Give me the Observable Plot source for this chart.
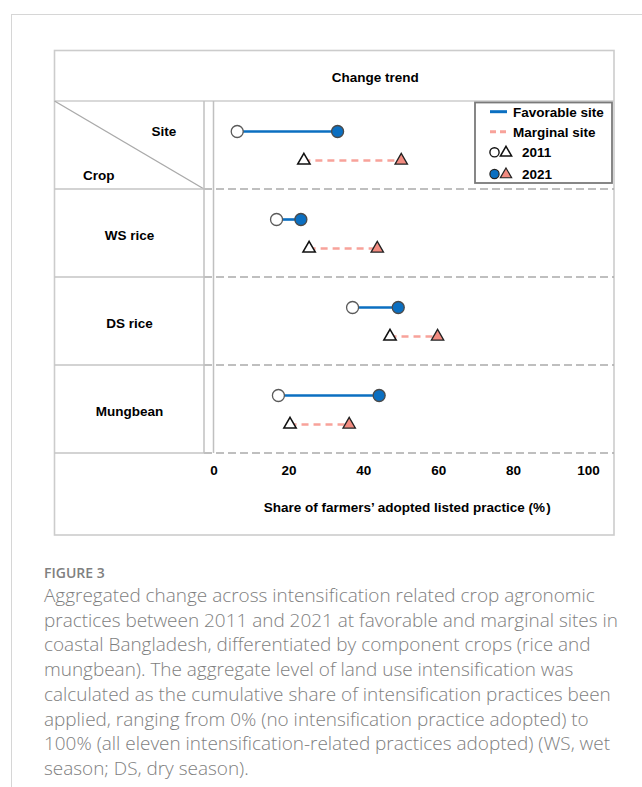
<!DOCTYPE html>
<html><head><meta charset="utf-8">
<script src="https://cdn.jsdelivr.net/npm/d3@7"></script>
<script src="https://cdn.jsdelivr.net/npm/@observablehq/plot@0.6"></script>
<style>
html,body{margin:0;padding:0;background:#fff;}
body{width:642px;height:787px;position:relative;overflow:hidden;}
#frame{position:absolute;left:11px;top:14px;width:700px;height:800px;border-top:1.5px solid #d6d6d6;border-left:1.5px solid #d6d6d6;}
#chart{position:absolute;left:0;top:0;}
#caption{position:absolute;left:44px;top:563px;font-family:"Open Sans",sans-serif;color:#7e7e7e;}
.fig{font-size:14px;font-weight:600;line-height:20px;color:#808080;}
.cap{font-size:17px;font-weight:300;line-height:24.7px;white-space:nowrap;}
</style></head><body>
<div id="frame"></div>
<div id="chart"></div>
<div id="caption"></div>
<script>
// ---- data ----
const rows = ["Overall", "WS rice", "DS rice", "Mungbean"];
const rowLabels = ["", "WS rice", "DS rice", "Mungbean"];
const fav2011 = [6.2, 16.7, 37.0, 17.2];
const fav2021 = [33.0, 23.2, 49.2, 44.1];
const marg2011 = [24.0, 25.4, 47.0, 20.3];
const marg2021 = [50.0, 43.6, 59.7, 36.1];
const xTicks = [0, 20, 40, 60, 80, 100];
const siteNames = ["Favorable site", "Marginal site"];
const yearNames = ["2011", "2021"];
const headerLabels = ["Site", "Crop"];
const title = "Change trend";
const xLabel = "Share of farmers\u2019 adopted listed practice (%\u200A)";
const figLabel = "FIGURE 3";
const captionLines = [
  "Aggregated change across intensification related crop agronomic",
  "practices between 2011 and 2021 at favorable and marginal sites in",
  "coastal Bangladesh, differentiated by component crops (rice and",
  "mungbean). The aggregate level of land use intensification was",
  "calculated as the cumulative share of intensification practices been",
  "applied, ranging from 0% (no intensification practice adopted) to",
  "100% (all eleven intensification-related practices adopted) (WS, wet",
  "season; DS, dry season)."
];

const data = rows.map((r, i) => ({row: r, label: rowLabels[i], fav2011: fav2011[i], fav2021: fav2021[i], marg2011: marg2011[i], marg2021: marg2021[i]}));

const BLUE = "#0b6fc1", SALMON = "#f28b80", SALMON_LINE = "#f8a29a";
const FONT = '"Liberation Sans", Arial, sans-serif';
const FS = 13.5;
const DYF = -14, DYM = 15;

const plot = Plot.plot({
  width: 642, height: 545,
  marginLeft: 213.5, marginRight: 54, marginTop: 99, marginBottom: 91,
  style: {fontFamily: FONT, fontSize: FS + "px", fontWeight: "bold", color: "#000", background: "transparent", overflow: "visible"},
  x: {domain: [0, 100]},
  y: {type: "band", domain: rows, padding: 0, axis: null},
  marks: [
    Plot.axisX({ticks: xTicks, tickSize: 0, tickPadding: 11, label: null, fill: "#000"}),
    Plot.text([xLabel], {frameAnchor: "bottom", dx: 6, dy: 53, lineAnchor: "middle", fill: "#000"}),
    Plot.text([title], {frameAnchor: "top", dx: -26, dy: -22, lineAnchor: "middle", fill: "#000"}),
    Plot.text(data, {y: "row", text: "label", frameAnchor: "left", dx: -84.5, dy: 2, textAnchor: "middle", lineAnchor: "middle", fill: "#000"}),
    Plot.text(data.slice(0, 1), {y: "row", text: () => headerLabels[0], frameAnchor: "left", dx: -50.2, dy: -14, textAnchor: "middle", lineAnchor: "middle", fill: "#000"}),
    Plot.text(data.slice(0, 1), {y: "row", text: () => headerLabels[1], frameAnchor: "left", dx: -115.2, dy: 30.6, textAnchor: "middle", lineAnchor: "middle", fill: "#000"}),
    Plot.ruleY(data, {y: "row", x1: "fav2011", x2: "fav2021", dy: DYF, stroke: BLUE, strokeWidth: 2.6}),
    Plot.ruleY(data, {y: "row", x1: "marg2011", x2: "marg2021", dy: DYM, stroke: SALMON_LINE, strokeWidth: 2.6, strokeDasharray: "7,5"}),
    Plot.dot(data, {x: "fav2011", y: "row", dy: DYF, r: 6, fill: "white", stroke: "#5a5a5a", strokeWidth: 1.3}),
    Plot.dot(data, {x: "fav2021", y: "row", dy: DYF, r: 6, fill: BLUE, stroke: "#4a4a4a", strokeWidth: 1.3}),
    Plot.dot(data, {x: "marg2011", y: "row", dy: DYM, r: 4.6, symbol: "triangle", fill: "white", stroke: "#111", strokeWidth: 1.5}),
    Plot.dot(data, {x: "marg2021", y: "row", dy: DYM, r: 4.6, symbol: "triangle", fill: SALMON, stroke: "#222", strokeWidth: 1.3})
  ]
});
document.getElementById("chart").appendChild(plot);

// ---- table decorations (derived from the scales) ----
const ysc = plot.scale("y"), xsc = plot.scale("x");
const bw = ysc.bandwidth;
const top0 = ysc.apply(rows[0]);
const bounds = rows.map(r => ysc.apply(r) + bw);
const x0 = xsc.apply(0);
const boxL = 54.5, boxR = 614, boxT = 50.5, boxB = 535, col1 = 204;
const svg = d3.select(plot);
const g = svg.insert("g", ":first-child").attr("fill", "none");
const LINE = "#cccccc";
g.append("rect").attr("x", boxL).attr("y", boxT).attr("width", boxR - boxL).attr("height", boxB - boxT).attr("stroke", LINE).attr("stroke-width", 1.6);
g.append("line").attr("x1", boxL).attr("x2", boxR).attr("y1", top0).attr("y2", top0).attr("stroke", LINE).attr("stroke-width", 1.6);
g.append("line").attr("x1", boxL).attr("x2", col1).attr("y1", top0).attr("y2", bounds[0]).attr("stroke", "#aaaaaa").attr("stroke-width", 1.4);
for (const yb of bounds) {
  g.append("line").attr("x1", boxL).attr("x2", col1).attr("y1", yb).attr("y2", yb).attr("stroke", "#c4c4c4").attr("stroke-width", 1.6);
  g.append("line").attr("x1", col1).attr("x2", boxR).attr("y1", yb).attr("y2", yb).attr("stroke", "#aaaaaa").attr("stroke-width", 1.6).attr("stroke-dasharray", "8,4");
}
for (const xv of [col1, x0]) {
  g.append("line").attr("x1", xv).attr("x2", xv).attr("y1", top0).attr("y2", bounds[bounds.length - 1]).attr("stroke", "#c0c0c0").attr("stroke-width", 1.5);
}

// ---- legend ----
const lg = svg.append("g").attr("font-family", FONT).attr("font-size", FS).attr("font-weight", "bold").attr("text-anchor", "start");
lg.append("rect").attr("x", 475).attr("y", 102.5).attr("width", 137).attr("height", 80.5).attr("fill", "white").attr("stroke", "#7a7a7a").attr("stroke-width", 1.8);
const ly = [111.7, 131.7, 152.3, 174];
lg.append("line").attr("x1", 490).attr("x2", 507).attr("y1", ly[0]).attr("y2", ly[0]).attr("stroke", BLUE).attr("stroke-width", 3);
lg.append("line").attr("x1", 490).attr("x2", 507).attr("y1", ly[1]).attr("y2", ly[1]).attr("stroke", SALMON_LINE).attr("stroke-width", 3).attr("stroke-dasharray", "6,4");
lg.append("text").attr("x", 513).attr("y", ly[0]).attr("dy", "0.36em").text(siteNames[0]);
lg.append("text").attr("x", 513).attr("y", ly[1]).attr("dy", "0.36em").text(siteNames[1]);
const tri = d3.symbol(d3.symbolTriangle, 55);
lg.append("circle").attr("cx", 494.5).attr("cy", ly[2]).attr("r", 4.6).attr("fill", "white").attr("stroke", "#111").attr("stroke-width", 1.4);
lg.append("path").attr("d", tri()).attr("transform", `translate(506,${ly[2] + 0.5})`).attr("fill", "white").attr("stroke", "#111").attr("stroke-width", 1.5);
lg.append("circle").attr("cx", 494.5).attr("cy", ly[3]).attr("r", 4.6).attr("fill", BLUE).attr("stroke", "#222").attr("stroke-width", 1.2);
lg.append("path").attr("d", tri()).attr("transform", `translate(506,${ly[3] + 0.5})`).attr("fill", SALMON).attr("stroke", "#222").attr("stroke-width", 1.2);
lg.append("text").attr("x", 522).attr("y", ly[2]).attr("dy", "0.36em").text(yearNames[0]);
lg.append("text").attr("x", 522).attr("y", ly[3]).attr("dy", "0.36em").text(yearNames[1]);

// ---- caption ----
const cap = document.getElementById("caption");
const fig = document.createElement("div"); fig.className = "fig"; fig.textContent = figLabel; cap.appendChild(fig);
const body = document.createElement("div"); body.className = "cap";
captionLines.forEach((t, i) => { const s = document.createElement("div"); s.textContent = t; body.appendChild(s); });
cap.appendChild(body);
// fit line 5 to its width in the reference
const probe = body.children[4];
probe.style.display = "inline-block";
const w = probe.getBoundingClientRect().width;
probe.style.display = "";
body.style.fontSize = (17 * 567 / w) + "px";
</script>
</body></html>
